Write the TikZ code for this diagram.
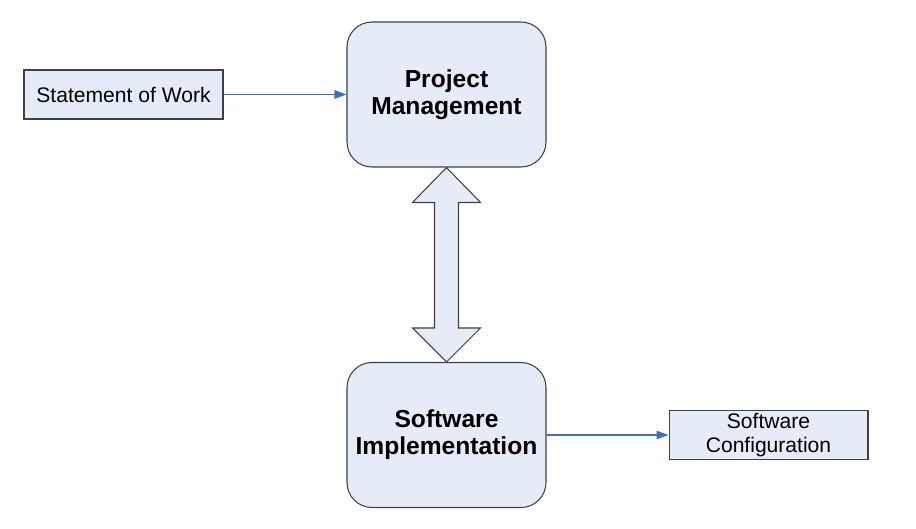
\documentclass[tikz,border=0pt]{standalone}
\usepackage{fontspec}
\setmainfont{Liberation Sans}
\usetikzlibrary{positioning}
\usetikzlibrary{arrows.meta,shapes}
\usetikzlibrary{calc}
\definecolor{boxfill}{RGB}{230,236,247}
\definecolor{boxline}{RGB}{64,64,64}
\definecolor{flowblue}{RGB}{58,111,196}
\tikzstyle{docbox}=[rectangle,draw=boxline,fill=boxfill,line width=0.6pt,minimum width=3.98cm,minimum height=0.98cm,inner sep=0pt,align=center,font=\fontsize{12}{13.6}\selectfont]
\tikzstyle{phase}=[rectangle,rounded corners=0.5cm,draw=boxline,fill=boxfill,line width=0.6pt,minimum width=3.98cm,minimum height=2.9cm,inner sep=0pt,align=center,font=\fontsize{14}{15.5}\selectfont\bfseries]
\tikzstyle{flow} = [draw=flowblue,line width=0.6pt,-{Triangle[length=0.24cm,width=0.17cm]}]
\tikzstyle{bigarrow} = [draw=boxline,fill=boxfill,line width=0.6pt]

\begin{document}
\begin{tikzpicture}[x=0.02cm,y=-0.02cm]
    \useasboundingbox (0,0) rectangle (916,528);

    \node[docbox] (work) at (123.5,94.5) {Statement of Work};
    \node[phase] (pm) at (446.5,94.5) {Project\\Management};
    \node[phase] (impl) at (446.5,435) {Software\\Implementation};
    \node[docbox] (config) at (768.5,435) {Software\\Configuration};

    \path[flow] (work) -- (pm);
    \path[flow] (impl) -- (config);

    % two-headed block arrow between the phases
    \path[bigarrow] (pm.south) -- ++(34,35) -- ++(-22,0) -- ($(impl.north)+(12,-34)$) -- ++(22,0)
        -- (impl.north) -- ++(-34,-34) -- ++(22,0) -- ($(pm.south)+(-12,35)$) -- ++(-22,0) -- cycle;

\end{tikzpicture}
\end{document}
